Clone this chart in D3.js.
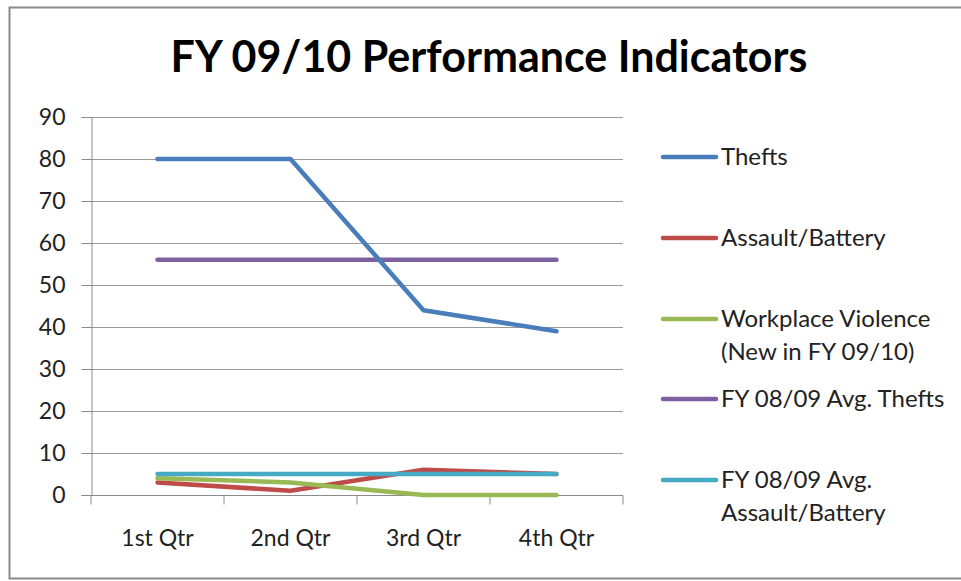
<!DOCTYPE html>
<html><head><meta charset="utf-8">
<script src="https://cdn.jsdelivr.net/npm/d3@7"></script>
<style>body{margin:0;background:#fff}svg{display:block}</style>
</head><body>
<script>
const categories = ["1st Qtr","2nd Qtr","3rd Qtr","4th Qtr"];
const seriesNames = ["Thefts","Assault/Battery","Workplace Violence\n(New in FY 09/10)","FY 08/09 Avg. Thefts","FY 08/09 Avg.\nAssault/Battery"];
const thefts = [80,80,44,39];
const assault = [3,1,6,5];
const workplace = [4,3,0,0];
const avgThefts = [56,56,56,56];
const avgAssault = [5,5,5,5];
const yTicks = [0,10,20,30,40,50,60,70,80,90];
const colors = ["#4A7EBB","#BE4B48","#98B954","#7D60A0","#46AAC5"];
const title = "FY 09/10 Performance Indicators";

const W=961,H=581;
const svg=d3.select("body").append("svg").attr("width",W).attr("height",H);
const font="Lato, 'Open Sans', sans-serif";

svg.append("rect").attr("x",9.5).attr("y",7.5).attr("width",W).attr("height",571)
  .attr("fill","#fff").attr("stroke","#8a8a8a").attr("stroke-width",2);

svg.append("text").attr("x",489).attr("y",72).attr("text-anchor","middle")
  .attr("font-family",font).attr("font-weight","bold").attr("font-size",43)
  .attr("fill","#000").text(title);

const x=d3.scaleBand().domain(categories).range([91,623]);
const y=d3.scaleLinear().domain([0,90]).range([495,117]);

// gridlines
svg.append("g").selectAll("line").data(yTicks.filter(d=>d>0)).join("line")
  .attr("x1",91).attr("x2",623).attr("y1",d=>Math.round(y(d))+0.5).attr("y2",d=>Math.round(y(d))+0.5)
  .attr("stroke","#9a9a9a").attr("stroke-width",1);

const yAxis=svg.append("g").attr("transform","translate(91.5,0)")
  .call(d3.axisLeft(y).tickValues(yTicks).tickSize(10).tickPadding(16));
yAxis.select(".domain").attr("stroke","#8a8a8a");
yAxis.selectAll(".tick line").attr("stroke","#8a8a8a");
yAxis.selectAll("text").attr("font-family",font).attr("font-size",23).attr("fill","#222");

const xAxis=svg.append("g").attr("transform","translate(0,495.5)")
  .call(d3.axisBottom(x).tickSize(0).tickPadding(34));
xAxis.select(".domain").attr("stroke","#8a8a8a").attr("d","M91,0H623");
xAxis.selectAll("text").attr("font-family",font).attr("font-size",23).attr("fill","#222");
// tick marks at band boundaries
xAxis.selectAll("line.bt").data(d3.range(5)).join("line").attr("class","bt")
  .attr("x1",i=>91+i*x.step()).attr("x2",i=>91+i*x.step()).attr("y1",0).attr("y2",9)
  .attr("stroke","#8a8a8a");

const series=[thefts,assault,workplace,avgThefts,avgAssault];
const order=[3,1,2,4,0];
const line=d3.line().x((d,i)=>x(categories[i])+x.bandwidth()/2).y(d=>y(d));
order.forEach(k=>{
  svg.append("path").attr("d",line(series[k])).attr("fill","none")
    .attr("stroke",colors[k]).attr("stroke-width",4.5).attr("stroke-linecap","round").attr("stroke-linejoin","round");
});

// legend
const legY=[157,238,319,399,480];
seriesNames.forEach((name,k)=>{
  const g=svg.append("g");
  g.append("line").attr("x1",663).attr("x2",716).attr("y1",legY[k]).attr("y2",legY[k])
    .attr("stroke",colors[k]).attr("stroke-width",4.5).attr("stroke-linecap","round");
  const t=g.append("text").attr("x",721).attr("y",legY[k]+8)
    .attr("font-family",font).attr("font-size",24).attr("fill","#222");
  name.split("\n").forEach((s,j)=>t.append("tspan").attr("x",721).attr("dy",j?33:0).text(s));
});
</script>
</body></html>
